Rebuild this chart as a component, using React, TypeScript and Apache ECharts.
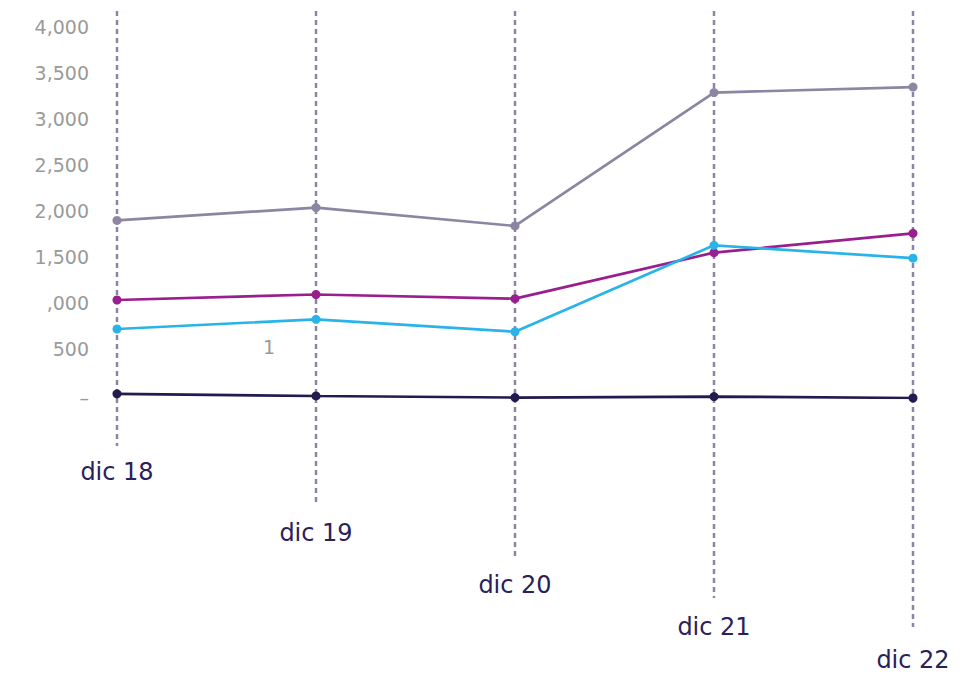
import React, { useEffect, useRef } from "react";
import * as echarts from "echarts";

// Categories (x axis)
const categories = ["dic 18", "dic 19", "dic 20", "dic 21", "dic 22"];

// Series values
const seriesGrey = [1930, 2070, 1870, 3320, 3380];
const seriesPurple = [1065, 1125, 1080, 1580, 1790];
const seriesCyan = [750, 855, 720, 1660, 1520];
const seriesNavy = [45, 22, 5, 15, 0];

// Y tick labels as displayed
const yTickLabels: Record<number, string> = {
  0: "–",
  500: "500",
  1000: ",000",
  1500: "1,500",
  2000: "2,000",
  2500: "2,500",
  3000: "3,000",
  3500: "3,500",
  4000: "4,000",
};

// Layout: how far each category label and its dashed guide drop below the plot
const labelDrop = [60, 121, 173, 215, 248];
const guideBottom = [446, 504, 559, 598, 627];
const guideTop = 11;

const FONT = "DejaVu Sans";

export default function App() {
  const ref = useRef<HTMLDivElement>(null);

  useEffect(() => {
    document.body.style.margin = "0";
    const chart = echarts.init(ref.current!, null, { renderer: "svg" });

    // rich padding on a single-line label is split around the centred text,
    // so the top padding is doubled to get the wanted drop
    const rich: Record<string, any> = {};
    labelDrop.forEach((d, i) => {
      rich["l" + i] = {
        fontFamily: FONT,
        fontSize: 24,
        color: "#2a2159",
        lineHeight: 28,
        padding: [d * 2, 0, 0, 0],
      };
    });

    const lineSeries = (name: string, data: number[], color: string) => ({
      name,
      type: "line",
      data,
      symbol: "circle",
      symbolSize: 9,
      z: 5,
      lineStyle: { color, width: 2.7 },
      itemStyle: { color },
    });

    chart.setOption({
      animation: false,
      grid: { left: 117, right: 53, top: 30, bottom: 276, containLabel: false },
      xAxis: {
        type: "category",
        data: categories,
        boundaryGap: false,
        axisLine: { show: false },
        axisTick: { show: false },
        splitLine: { show: false },
        axisLabel: {
          margin: 0,
          interval: 0,
          formatter: (v: string) => {
            const i = categories.indexOf(v);
            return `{l${i}|${v}}`;
          },
          rich,
        },
      },
      yAxis: {
        type: "value",
        min: 0,
        max: 4000,
        interval: 500,
        axisLine: { show: false },
        axisTick: { show: false },
        splitLine: { show: false },
        axisLabel: {
          margin: 28,
          formatter: (v: number) =>
            v === 0 ? `{z|${yTickLabels[0]}}` : `{n|${yTickLabels[v] ?? ""}}`,
          rich: {
            n: {
              fontFamily: FONT,
              fontSize: 19,
              color: "#9a9a9a",
              padding: [0, 0, 7, 0],
            },
            z: {
              fontFamily: FONT,
              fontSize: 19,
              color: "#9a9a9a",
              padding: [0, 0, 0, 0],
            },
          },
        },
      },
      graphic: [
        {
          type: "text",
          x: 269,
          y: 347,
          style: {
            text: "1",
            fontFamily: FONT,
            fontSize: 19,
            fill: "#9a9a9a",
            textAlign: "center",
            textVerticalAlign: "middle",
          },
        },
      ],
      series: [
        {
          type: "custom",
          name: "guides",
          z: 1,
          clip: false,
          silent: true,
          data: categories.map((_, i) => [i, 0]),
          renderItem: (params: any, api: any) => {
            const i = params.dataIndex;
            const x = api.coord([api.value(0), 0])[0];
            return {
              type: "line",
              shape: { x1: x, y1: guideTop, x2: x, y2: guideBottom[i] },
              style: {
                stroke: "#8c84a3",
                lineWidth: 2.5,
                lineDash: [5, 4],
              },
            };
          },
        },
        lineSeries("grey", seriesGrey, "#8d85a2"),
        lineSeries("purple", seriesPurple, "#9a1f8e"),
        lineSeries("cyan", seriesCyan, "#28b4e8"),
        lineSeries("navy", seriesNavy, "#231a4d"),
      ],
    });

    return () => chart.dispose();
  }, []);

  return (
    <div
      ref={ref}
      style={{ width: 966, height: 674, overflow: "hidden", background: "#fff" }}
    />
  );
}
